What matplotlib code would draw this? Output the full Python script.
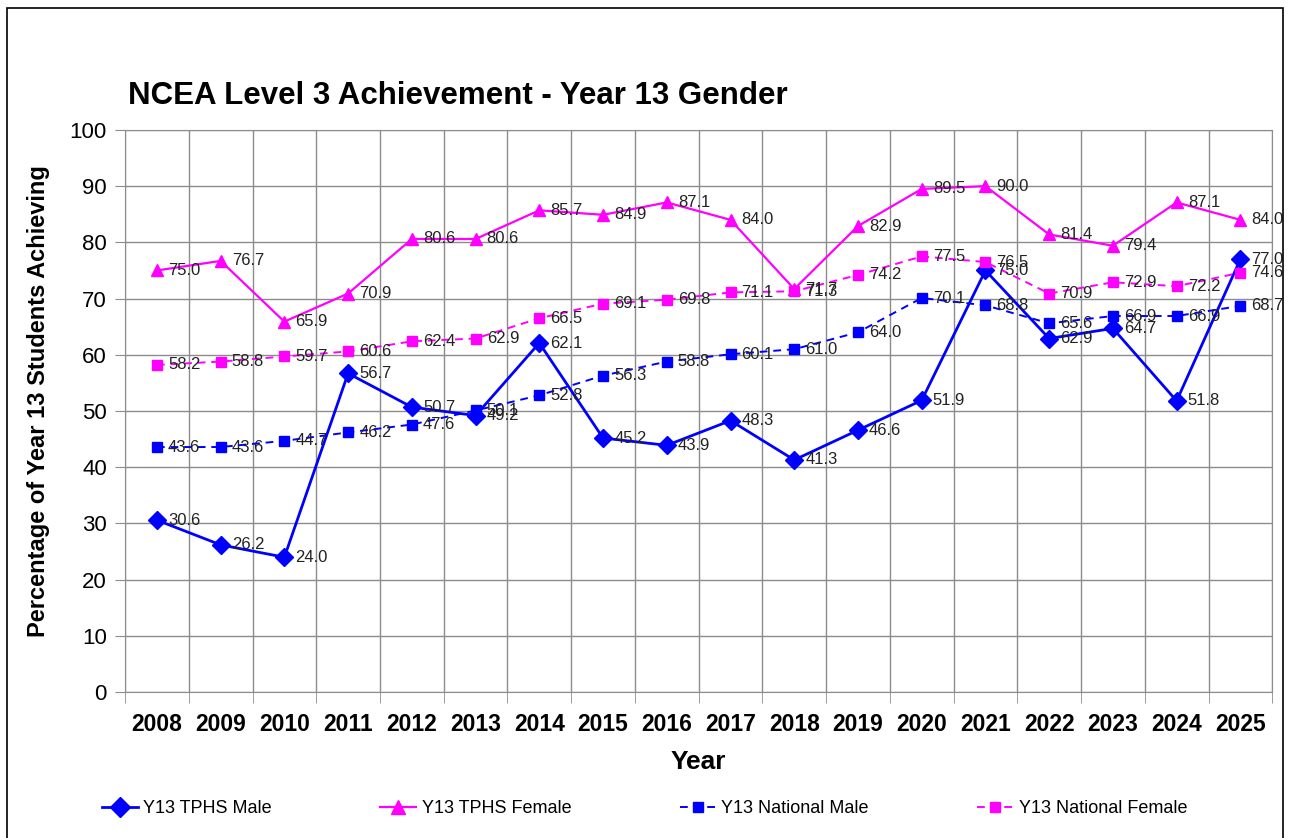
import matplotlib
matplotlib.use("Agg")
import matplotlib.pyplot as plt
from matplotlib.patches import Rectangle

plt.rcParams['font.family'] = ['Liberation Sans', 'DejaVu Sans']

years = ['2008', '2009', '2010', '2011', '2012', '2013', '2014', '2015', '2016',
         '2017', '2018', '2019', '2020', '2021', '2022', '2023', '2024', '2025']
tphs_male = [30.6, 26.2, 24.0, 56.7, 50.7, 49.2, 62.1, 45.2, 43.9,
             48.3, 41.3, 46.6, 51.9, 75.0, 62.9, 64.7, 51.8, 77.0]
tphs_female = [75.0, 76.7, 65.9, 70.9, 80.6, 80.6, 85.7, 84.9, 87.1,
               84.0, 71.7, 82.9, 89.5, 90.0, 81.4, 79.4, 87.1, 84.0]
nat_male = [43.6, 43.6, 44.7, 46.2, 47.6, 50.1, 52.8, 56.3, 58.8,
            60.1, 61.0, 64.0, 70.1, 68.8, 65.6, 66.9, 66.9, 68.7]
nat_female = [58.2, 58.8, 59.7, 60.6, 62.4, 62.9, 66.5, 69.1, 69.8,
              71.1, 71.3, 74.2, 77.5, 76.5, 70.9, 72.9, 72.2, 74.6]

BLUE = '#0000FF'
PINK = '#FF00FF'
GRID = '#8c8c8c'

fig = plt.figure(figsize=(12.89, 8.38), dpi=100)
fig.patches.append(Rectangle((0.0055, -0.01), 0.99, 1.0, transform=fig.transFigure,
                             fill=False, edgecolor='black', linewidth=1.2))

ax = fig.add_axes([0.097, 0.174, 0.890, 0.671])
x = list(range(len(years)))

series = [
    (tphs_male, 'Y13 TPHS Male', BLUE, '-', 'D', 9, 2.0),
    (tphs_female, 'Y13 TPHS Female', PINK, '-', '^', 9, 1.6),
    (nat_male, 'Y13 National Male', BLUE, (0, (4, 3)), 's', 6.5, 1.4),
    (nat_female, 'Y13 National Female', PINK, (0, (4, 3)), 's', 6.5, 1.4),
]
for vals, name, col, ls, mk, ms, lw in series:
    ax.plot(x, vals, color=col, linestyle=ls, marker=mk, markersize=ms,
            linewidth=lw, label=name, zorder=3)
    for xi, v in zip(x, vals):
        ax.annotate(f'{v:.1f}', (xi, v), xytext=(8, 0), textcoords='offset points',
                    va='center', ha='left', fontsize=12, color='#222222', zorder=4)

ax.set_xlim(-0.5, len(years) - 0.5)
ax.set_ylim(0, 100)
ax.set_yticks(range(0, 101, 10))
ax.set_xticks(x)
ax.set_xticklabels(years, fontweight='bold', fontsize=16.5)
ax.set_xticks([i + 0.5 for i in range(-1, len(years))], minor=True)
ax.tick_params(axis='x', which='major', length=0, pad=15)
ax.tick_params(axis='x', which='minor', length=8, color=GRID, direction='out')
ax.tick_params(axis='y', labelsize=16, length=7, color=GRID, pad=6)
ax.grid(axis='y', color=GRID, linewidth=1)
ax.grid(axis='x', which='minor', color=GRID, linewidth=1)
for s in ax.spines.values():
    s.set_color(GRID)

ax.set_xlabel('Year', fontsize=19, fontweight='bold', labelpad=10)
ax.set_ylabel('Percentage of Year 13 Students Achieving', fontsize=17,
              fontweight='bold', labelpad=14)
ax.yaxis.label.set_y(0.518)
fig.text(0.099, 0.886, 'NCEA Level 3 Achievement - Year 13 Gender',
         fontsize=22.5, fontweight='bold', ha='left', va='center')

fig.legend(loc='center', bbox_to_anchor=(0.5, 0.035), ncol=4, frameon=False,
           fontsize=13, handlelength=2.0, columnspacing=6.0, handletextpad=0.3,
           markerscale=1.1)

fig.savefig('out.png', dpi=100)
